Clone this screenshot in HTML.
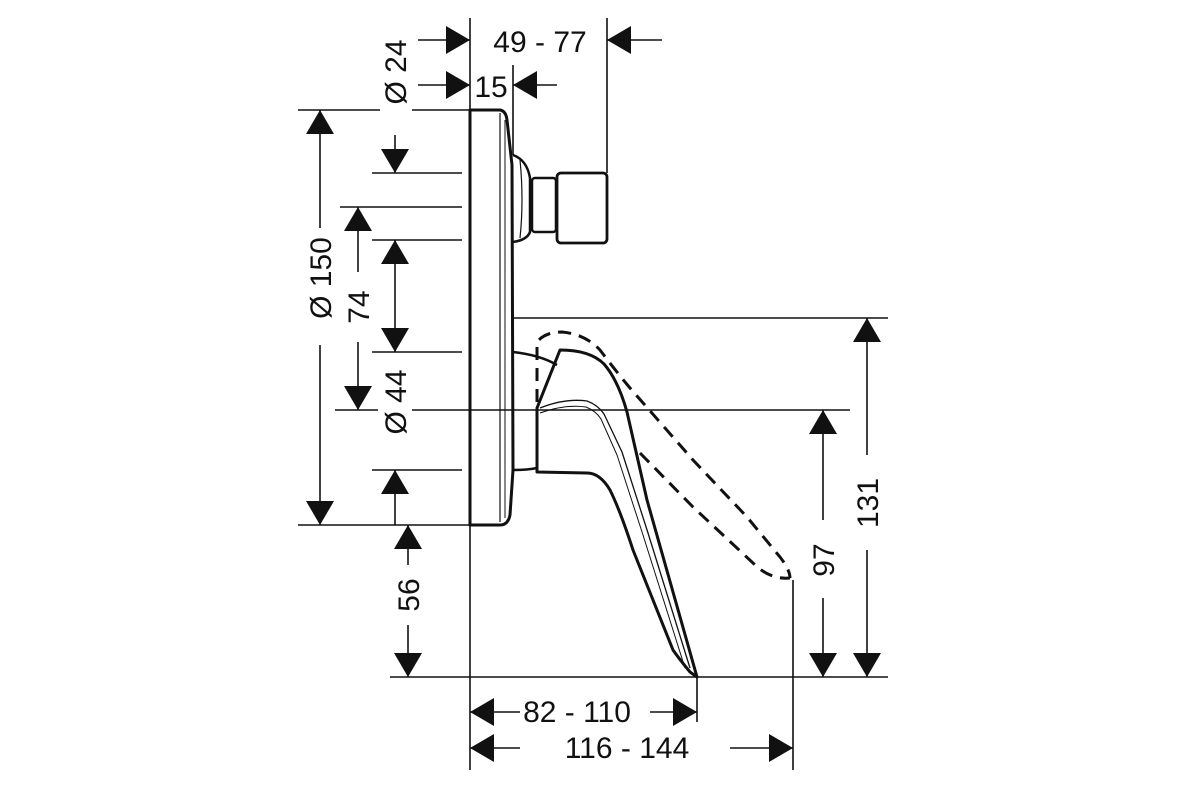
<!DOCTYPE html>
<html><head><style>body{margin:0;background:#fff}svg{display:block}text{font-family:"Liberation Sans",sans-serif;font-size:30px;fill:#111}</style></head>
<body>
<svg width="1200" height="800" viewBox="0 0 1200 800" xmlns="http://www.w3.org/2000/svg">
<defs>
<marker id="a" viewBox="0 0 24 28" refX="24" refY="14" markerWidth="24" markerHeight="28" markerUnits="userSpaceOnUse" orient="auto"><path d="M0,0 L24,14 L0,28 Z" fill="#111"/></marker>
</defs>
<g stroke="#111" stroke-width="1.6" fill="none">
<line x1="470" y1="18" x2="470" y2="110"/>
<line x1="607" y1="18" x2="607" y2="173"/>
<line x1="513" y1="65" x2="513" y2="155"/>
<line x1="298" y1="110" x2="380" y2="110"/><line x1="412" y1="110" x2="470" y2="110"/>
<line x1="372" y1="173" x2="462" y2="173"/>
<line x1="340" y1="207" x2="462" y2="207"/>
<line x1="372" y1="240" x2="462" y2="240"/>
<line x1="372" y1="352" x2="462" y2="352"/>
<line x1="335" y1="410" x2="378" y2="410"/><line x1="412" y1="410" x2="850" y2="410"/>
<line x1="372" y1="470" x2="462" y2="470"/>
<line x1="298" y1="525" x2="470" y2="525"/>
<line x1="513" y1="318" x2="888" y2="318"/>
<line x1="390" y1="677" x2="888" y2="677"/>
<line x1="470" y1="525" x2="470" y2="770"/>
<line x1="697" y1="677" x2="697" y2="722"/>
<line x1="793" y1="580" x2="793" y2="770"/>
<line x1="418" y1="40" x2="470" y2="40" marker-end="url(#a)"/>
<line x1="662" y1="40" x2="607" y2="40" marker-end="url(#a)"/>
<line x1="418" y1="85" x2="470" y2="85" marker-end="url(#a)"/>
<line x1="557" y1="85" x2="513" y2="85" marker-end="url(#a)"/>
<line x1="320" y1="228" x2="320" y2="110" marker-end="url(#a)"/>
<line x1="320" y1="345" x2="320" y2="525" marker-end="url(#a)"/>
<line x1="395" y1="135" x2="395" y2="173" marker-end="url(#a)"/>
<line x1="358" y1="272" x2="358" y2="207" marker-end="url(#a)"/>
<line x1="358" y1="342" x2="358" y2="410" marker-end="url(#a)"/>
<line x1="395" y1="296" x2="395" y2="240" marker-end="url(#a)"/>
<line x1="395" y1="296" x2="395" y2="352" marker-end="url(#a)"/>
<line x1="395" y1="525" x2="395" y2="470" marker-end="url(#a)"/>
<line x1="408" y1="565" x2="408" y2="525" marker-end="url(#a)"/>
<line x1="408" y1="625" x2="408" y2="677" marker-end="url(#a)"/>
<line x1="520" y1="712" x2="470" y2="712" marker-end="url(#a)"/>
<line x1="650" y1="712" x2="697" y2="712" marker-end="url(#a)"/>
<line x1="520" y1="748" x2="470" y2="748" marker-end="url(#a)"/>
<line x1="730" y1="748" x2="793" y2="748" marker-end="url(#a)"/>
<line x1="823" y1="520" x2="823" y2="410" marker-end="url(#a)"/>
<line x1="823" y1="598" x2="823" y2="677" marker-end="url(#a)"/>
<line x1="867" y1="455" x2="867" y2="318" marker-end="url(#a)"/>
<line x1="867" y1="550" x2="867" y2="677" marker-end="url(#a)"/>
</g>
<g stroke="#111" fill="none" stroke-linejoin="round">
<path d="M470,110 L500,110 Q506,111 507,120 L512,165 L513,470 L510,515 Q508,525 500,525 L470,525 Z" stroke-width="3"/>
<line x1="500" y1="113" x2="500" y2="522" stroke-width="1.2"/>
<line x1="505" y1="120" x2="505" y2="518" stroke-width="1"/>
<path d="M513,155 Q527,160 530,178 L530,232 Q527,240 513,242" stroke-width="2.5"/>
<path d="M520,160 Q524,200 520,238" stroke-width="1.2"/>
<rect x="532" y="178" width="24" height="54" rx="3" stroke-width="2.5"/>
<rect x="557" y="173" width="50" height="70" rx="4" stroke-width="2.8"/>
<path d="M513,352 Q540,355 557,365" stroke-width="2.5"/>
<path d="M513,470 Q528,470 537,468" stroke-width="2.5"/>
<path d="M537,472 L537,408 L560,350 Q590,350 604,364 Q618,380 627,412 L647,500 L697,677 L690,672 Q680,660 673,650 L633,550 Q620,510 610,490 Q600,473 587,473 Z" stroke-width="3"/>
<path d="M540,408 Q565,398 587,401 Q598,405 604,414 L622,452 L648,533 L690,668" stroke-width="1.3"/>
<path d="M540,413 Q565,404 586,407 Q596,411 601,419 L617,455 L643,535 L685,668" stroke-width="1"/>
<path d="M537,402 L537,342 Q545,332 562,332 Q585,334 600,350 Q615,370 630,388 L693,460 L747,517 L780,557 Q790,570 790,578" stroke-width="3" stroke-dasharray="13,8"/>
<path d="M640,453 L693,507 L753,563 Q770,580 790,578" stroke-width="3" stroke-dasharray="13,8"/>
</g>
<text x="540" y="52" text-anchor="middle">49 - 77</text>
<text x="491" y="97" text-anchor="middle">15</text>
<text x="577" y="722" text-anchor="middle">82 - 110</text>
<text x="627" y="758" text-anchor="middle">116 - 144</text>
<g>
<text transform="translate(406,72) rotate(-90)" text-anchor="middle">Ø 24</text>
<text transform="translate(331,278) rotate(-90)" text-anchor="middle">Ø 150</text>
<text transform="translate(369,307) rotate(-90)" text-anchor="middle">74</text>
<text transform="translate(406,402) rotate(-90)" text-anchor="middle">Ø 44</text>
<text transform="translate(419,595) rotate(-90)" text-anchor="middle">56</text>
<text transform="translate(834,560) rotate(-90)" text-anchor="middle">97</text>
<text transform="translate(878,503) rotate(-90)" text-anchor="middle">131</text>
</g>
</svg>
</body></html>
